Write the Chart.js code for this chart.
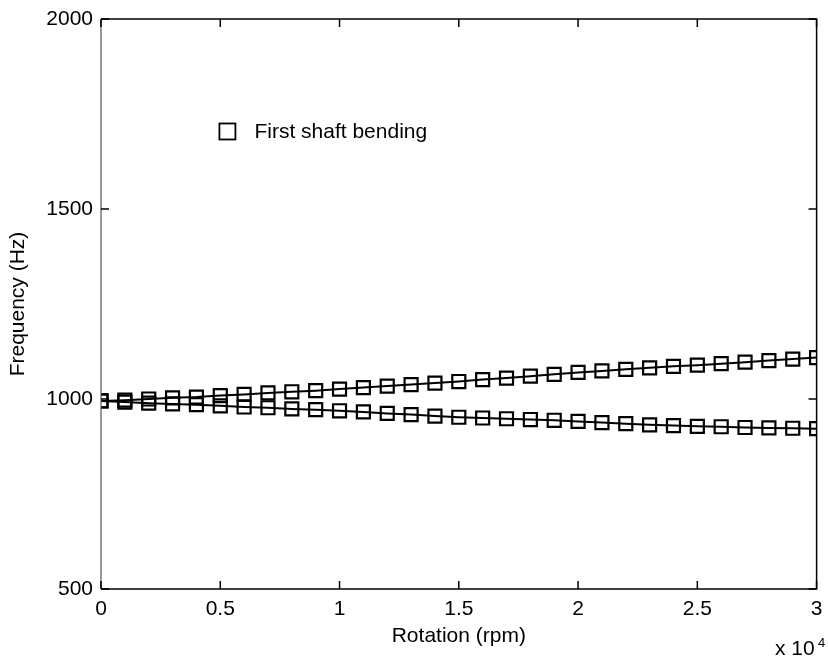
<!DOCTYPE html>
<html>
<head>
<meta charset="utf-8">
<script src="https://cdn.jsdelivr.net/npm/chart.js@4.4.0/dist/chart.umd.min.js"></script>
<style>
html,body{margin:0;padding:0;background:#fff;}
#wrap{width:828px;height:659px;position:relative;}
</style>
</head>
<body>
<div id="wrap"><canvas id="c" width="828" height="659"></canvas></div>
<script>
// Rotation speed (rpm)
const rotation = [0,1000,2000,3000,4000,5000,6000,7000,8000,9000,10000,11000,12000,13000,14000,15000,16000,17000,18000,19000,20000,21000,22000,23000,24000,25000,26000,27000,28000,29000,30000];
// Forward whirl branch (Hz)
const upperFreq = [995,997,1000,1003,1005,1009,1012,1016,1019,1022,1026,1030,1034,1038,1042,1046,1051,1055,1060,1065,1070,1074,1078,1082,1086,1089,1093,1097,1101,1105,1109];
// Backward whirl branch (Hz)
const lowerFreq = [995,992,989,987,985,982,979,977,974,972,969,966,962,959,955,952,950,948,946,944,941,938,935,932,930,928,927,925,924,923,922];
const xTicks = [0,5000,10000,15000,20000,25000,30000];
const yTicks = [500,1000,1500,2000];
const legendLabel = 'First shaft bending';

const FONT = "'Liberation Sans', Arial, sans-serif";

function pts(ys){ return rotation.map((x,i)=>({x:x,y:ys[i]})); }

const framePlugin = {
  id:'frame',
  afterDraw(chart){
    const ctx = chart.ctx, a = chart.chartArea;
    const xs = chart.scales.x, ys = chart.scales.y;
    ctx.save();
    ctx.strokeStyle = '#000';
    ctx.lineWidth = 1.5;
    ctx.beginPath();
    ctx.moveTo(a.left, a.bottom); ctx.lineTo(a.right, a.bottom); ctx.lineTo(a.right, a.top); ctx.lineTo(a.left, a.top);
    ctx.stroke();
    ctx.strokeStyle = '#555';
    ctx.lineWidth = 1.2;
    ctx.beginPath();
    ctx.moveTo(a.left, a.top); ctx.lineTo(a.left, a.bottom);
    ctx.stroke();
    ctx.strokeStyle = '#000';
    ctx.lineWidth = 1.5;
    const tl = 8;
    ctx.beginPath();
    xTicks.forEach(v=>{
      const px = xs.getPixelForValue(v);
      ctx.moveTo(px, a.bottom); ctx.lineTo(px, a.bottom - tl);
      ctx.moveTo(px, a.top); ctx.lineTo(px, a.top + tl);
    });
    yTicks.forEach(v=>{
      const py = ys.getPixelForValue(v);
      ctx.moveTo(a.left, py); ctx.lineTo(a.left + tl, py);
      ctx.moveTo(a.right, py); ctx.lineTo(a.right - tl, py);
    });
    ctx.stroke();
    // legend
    const lx = xs.getPixelForValue(5300), ly = ys.getPixelForValue(1704);
    ctx.lineWidth = 1.8;
    ctx.strokeRect(lx - 8, ly - 8, 16, 16);
    ctx.fillStyle = '#000';
    ctx.font = '21px ' + FONT;
    ctx.textAlign = 'left';
    ctx.textBaseline = 'middle';
    ctx.fillText(legendLabel, lx + 27, ly + 1);
    // exponent
    ctx.textBaseline = 'alphabetic';
    ctx.fillText('x 10', 775, 655);
    ctx.font = '13px ' + FONT;
    ctx.fillText('4', 818, 647);
    ctx.restore();
  }
};

new Chart(document.getElementById('c'), {
  type:'line',
  data:{
    datasets:[
      {data:pts(upperFreq), borderColor:'#000', borderWidth:2, backgroundColor:'rgba(0,0,0,0)',
       pointStyle:'rect', pointRadius:9.2, pointBorderWidth:2.2, pointBorderColor:'#000', pointBackgroundColor:'rgba(0,0,0,0)', tension:0},
      {data:pts(lowerFreq), borderColor:'#000', borderWidth:2, backgroundColor:'rgba(0,0,0,0)',
       pointStyle:'rect', pointRadius:9.2, pointBorderWidth:2.2, pointBorderColor:'#000', pointBackgroundColor:'rgba(0,0,0,0)', tension:0}
    ]
  },
  options:{
    responsive:false,
    animation:false,
    devicePixelRatio:1,
    layout:{padding:{left:0, right:7, top:19, bottom:0}},
    plugins:{legend:{display:false}, tooltip:{enabled:false}},
    scales:{
      x:{
        type:'linear', min:0, max:30000,
        afterFit(s){ s.height = 70; },
        afterBuildTicks(s){ s.ticks = xTicks.map(v=>({value:v})); },
        grid:{display:false}, border:{display:false},
        ticks:{color:'#000', padding:0, font:{family:FONT, size:21}, maxRotation:0, autoSkip:false,
               callback:(v)=> String(v/10000)},
        title:{display:true, text:'Rotation (rpm)', color:'#000', font:{family:FONT, size:21}, padding:{top:0,bottom:10}}
      },
      y:{
        type:'linear', min:500, max:2000,
        afterFit(s){ s.width = 101; },
        afterBuildTicks(s){ s.ticks = yTicks.map(v=>({value:v})); },
        grid:{display:false}, border:{display:false},
        ticks:{color:'#000', padding:0, font:{family:FONT, size:21}, autoSkip:false,
               callback:(v)=> String(v)},
        title:{display:true, text:'Frequency (Hz)', color:'#000', font:{family:FONT, size:21}, padding:{top:6,bottom:0}}
      }
    }
  },
  plugins:[framePlugin]
});
</script>
</body>
</html>
